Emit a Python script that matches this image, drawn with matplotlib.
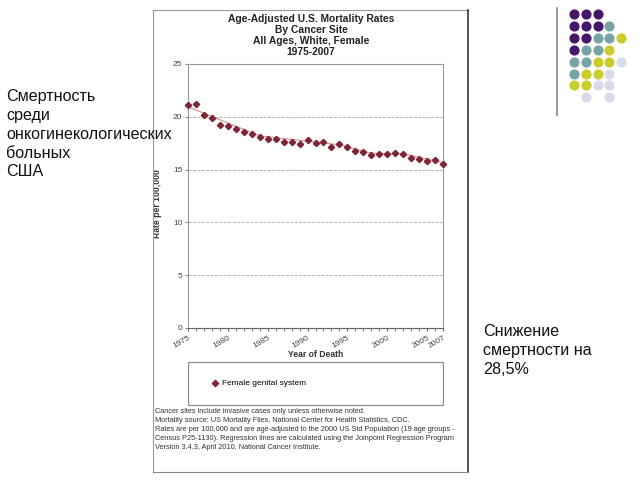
import matplotlib
matplotlib.use("Agg")
import matplotlib.pyplot as plt
from matplotlib.lines import Line2D
from matplotlib.ticker import MultipleLocator

years = list(range(1975, 2008))
rates = [21.08, 21.17, 20.13, 19.84, 19.24, 19.11, 18.86, 18.54, 18.39, 18.07,
         17.94, 17.91, 17.63, 17.66, 17.47, 17.82, 17.56, 17.63, 17.15, 17.44,
         17.15, 16.77, 16.64, 16.39, 16.49, 16.49, 16.61, 16.52, 16.14, 16.01,
         15.82, 15.95, 15.57]

# joinpoint regression segments
fit_years = [1975, 1984, 1994, 1998, 2002, 2007]
fit_rates = [20.95, 18.2, 17.35, 16.55, 16.5, 15.65]

xtick_labels = [1975, 1980, 1985, 1990, 1995, 2000, 2005, 2007]

title_lines = "Age-Adjusted U.S. Mortality Rates\nBy Cancer Site\nAll Ages, White, Female\n1975-2007"
footnote = ("Cancer sites include invasive cases only unless otherwise noted.\n"
            "Mortality source: US Mortality Files, National Center for Health Statistics, CDC.\n"
            "Rates are per 100,000 and are age-adjusted to the 2000 US Std Population (19 age groups -\n"
            "Census P25-1130). Regression lines are calculated using the Joinpoint Regression Program\n"
            "Version 3.4.3, April 2010, National Cancer Institute.")

left_lines = ["Смертность", "среди", "онкогинекологических", "больных", "США"]
right_lines = ["Снижение", "смертности на", "28,5%"]

# decorative dot grid (rows top to bottom), letters map to colours
dot_rows = ["PPP", "PPPT", "PPTTY", "PTTY", "TTYYL", "TYYL", "YYLL", " L L"]
dot_colors = {"P": "#45176A", "T": "#76A3A3", "Y": "#CACC2E", "L": "#DADAEA"}

plt.rcParams['font.family'] = ['Liberation Sans', 'DejaVu Sans']

W, H = 640, 480
fig = plt.figure(figsize=(6.4, 4.8), dpi=100)

def fx(px):
    return px / W

def fy(py):
    return 1 - py / H

# page border of the pasted chart
fig.add_artist(Line2D([fx(153), fx(468)], [fy(10), fy(10)], color="#999999", lw=0.8))
fig.add_artist(Line2D([fx(153), fx(153)], [fy(10), fy(472)], color="#999999", lw=0.8))
fig.add_artist(Line2D([fx(468), fx(468)], [fy(10), fy(472)], color="#333333", lw=1.2))
fig.add_artist(Line2D([fx(153), fx(468)], [fy(472), fy(472)], color="#888888", lw=0.8))

ax = fig.add_axes([fx(188), fy(328), fx(443) - fx(188), fy(64) - fy(328)])
ax.plot(fit_years, fit_rates, color="#D98C8C", lw=0.8, zorder=2)
pts, = ax.plot(years, rates, linestyle="none", marker="D", markersize=3.2,
               color="#7E2638", clip_on=False, zorder=3)
ax.set_xlim(1975, 2007)
ax.set_ylim(0, 25)
ax.yaxis.set_major_locator(MultipleLocator(5))
ax.set_xticks(xtick_labels)
ax.xaxis.set_minor_locator(MultipleLocator(1))
ax.set_xticklabels([str(y) for y in xtick_labels], rotation=30, ha="right",
                   rotation_mode="anchor", fontsize=6, color="#444444")
ax.tick_params(axis="y", labelsize=6, labelcolor="#444444", length=2, color="#888888", pad=2)
ax.tick_params(axis="x", which="both", length=2.5, color="#666666", pad=2)
ax.grid(axis="y", linestyle="--", color="#AAAAAA", lw=0.6)
for side, sp in ax.spines.items():
    sp.set_color("#999999")
    sp.set_linewidth(0.8)
ax.spines["bottom"].set_color("#666666")
ax.set_xlabel("Year of Death", fontsize=6.2, fontweight="bold", color="#333333", labelpad=0)
ax.set_ylabel("Rate per 100,000", fontsize=6.2, fontweight="bold", color="#333333")
ax.yaxis.set_label_coords(-0.1, 0.47)

fig.text(fx(311), fy(14), title_lines, ha="center", va="top", fontsize=7.4,
         fontweight="bold", color="#222222", linespacing=1.12)

# legend box
lax = fig.add_axes([fx(188), fy(405), fx(443) - fx(188), fy(362) - fy(405)])
lax.set_xticks([])
lax.set_yticks([])
for sp in lax.spines.values():
    sp.set_color("#888888")
    sp.set_linewidth(0.8)
lax.legend([pts], ["Female genital system"], loc="center left", frameon=False,
           fontsize=6, bbox_to_anchor=(0.06, 0.5), handletextpad=0.3,
           handlelength=1.0)

fig.text(fx(155), fy(408), footnote, ha="left", va="top", fontsize=5.3,
         color="#333333", linespacing=1.38)

for i, line in enumerate(left_lines):
    fig.text(fx(6), fy(97 + i * 18.7), line, ha="left", va="center", fontsize=11.6,
             color="#111111")
for i, line in enumerate(right_lines):
    fig.text(fx(483), fy(331 + i * 19.5), line, ha="left", va="center", fontsize=11.6,
             color="#111111")

# decoration top right
fig.add_artist(Line2D([fx(557), fx(557)], [fy(8), fy(115)], color="#888888", lw=1.2))
for r, row in enumerate(dot_rows):
    for c, ch in enumerate(row):
        if ch == " ":
            continue
        fig.add_artist(Line2D([fx(574 + c * 11.8)], [fy(14 + r * 11.9)], marker="o",
                              markersize=6.3, color=dot_colors[ch], linestyle="none"))

fig.savefig("out.png", dpi=100)
